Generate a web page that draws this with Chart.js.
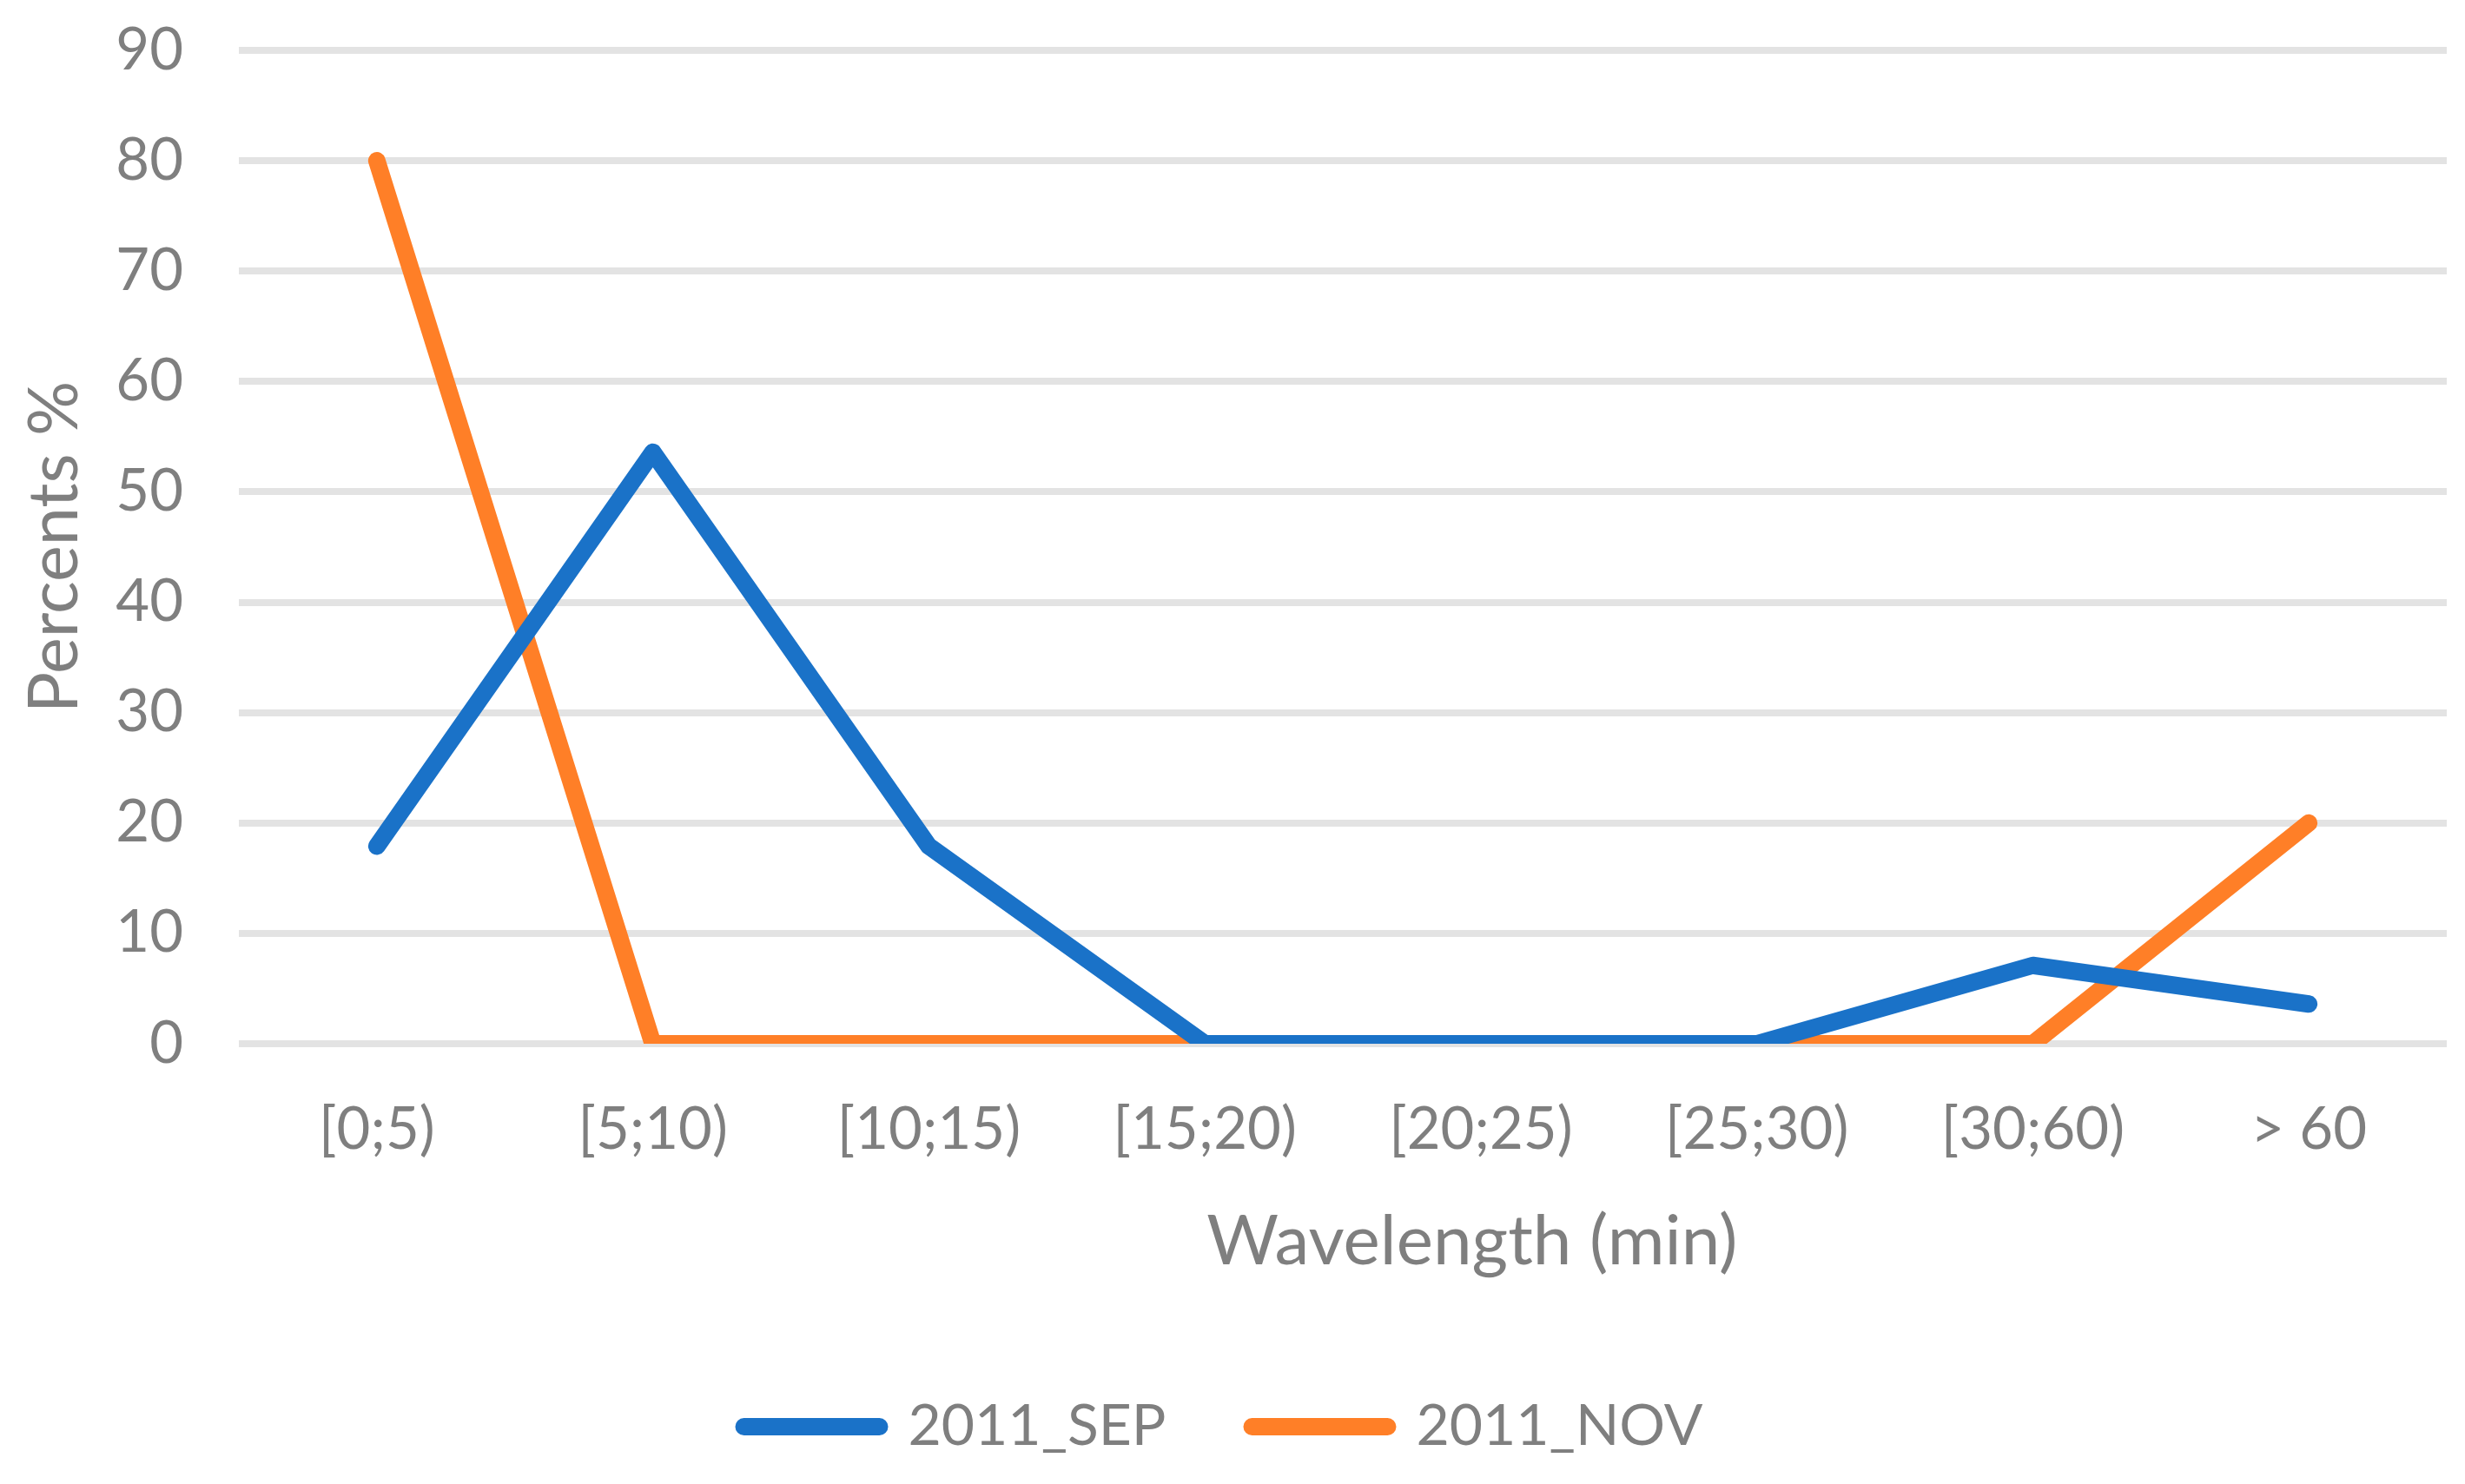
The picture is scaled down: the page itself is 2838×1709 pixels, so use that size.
<!DOCTYPE html>
<html>
<head>
<meta charset="utf-8">
<script src="https://cdn.jsdelivr.net/npm/chart.js@4.4.1/dist/chart.umd.min.js"></script>
<style>
  html, body { margin: 0; padding: 0; background: #ffffff; }
  #wrap { width: 2838px; height: 1709px; }
</style>
</head>
<body>
<div id="wrap"><canvas id="c" width="2838" height="1709"></canvas></div>
<script>
const categories = ["[0;5)", "[5;10)", "[10;15)", "[15;20)", "[20;25)", "[25;30)", "[30;60)", "> 60"];
const sep2011 = [17.9, 53.6, 17.9, 0, 0, 0, 7.1, 3.6];
const nov2011 = [80, 0, 0, 0, 0, 0, 0, 20];
const seriesNames = ["2011_SEP", "2011_NOV"];
const yTicks = [0, 10, 20, 30, 40, 50, 60, 70, 80, 90];
const xTitle = "Wavelength (min)";
const yTitle = "Percents %";

const GRAY = "#7f7f7f";
const BLUE = "#1a72c8";
const ORANGE = "#ff7f27";
const FONT = "Lato, 'Noto Sans', sans-serif";

// Draws the x-axis title where the reference places it (right of the plot centre)
const xTitlePlugin = {
  id: "xTitlePlugin",
  afterDraw(chart) {
    const ctx = chart.ctx;
    const area = chart.chartArea;
    ctx.save();
    ctx.font = "80px " + FONT;
    ctx.fillStyle = GRAY;
    ctx.textAlign = "center";
    ctx.textBaseline = "middle";
    ctx.fillText(xTitle, area.left + (area.right - area.left) * 0.5585, area.bottom + 228);
    ctx.restore();
  }
};

new Chart(document.getElementById("c"), {
  type: "line",
  data: {
    labels: categories,
    datasets: [
      { label: seriesNames[0], data: sep2011, borderColor: BLUE, backgroundColor: BLUE },
      { label: seriesNames[1], data: nov2011, borderColor: ORANGE, backgroundColor: ORANGE }
    ]
  },
  plugins: [xTitlePlugin],
  options: {
    responsive: false,
    devicePixelRatio: 1,
    animation: false,
    layout: { padding: { top: 58, right: 21, left: 0, bottom: 23 } },
    elements: {
      line: { borderWidth: 20, tension: 0, borderCapStyle: "round", borderJoinStyle: "round", fill: false },
      point: { radius: 0, hoverRadius: 0 }
    },
    plugins: {
      tooltip: { enabled: false },
      legend: {
        position: "bottom",
        labels: {
          color: GRAY,
          font: { family: FONT, size: 66 },
          usePointStyle: true,
          pointStyle: "line",
          pointStyleWidth: 156,
          padding: 99,
          generateLabels: (chart) => chart.data.datasets.map((ds, i) => ({
            text: ds.label,
            fillStyle: ds.borderColor,
            strokeStyle: ds.borderColor,
            lineWidth: 20,
            lineCap: "round",
            pointStyle: "line",
            fontColor: GRAY,
            hidden: false,
            datasetIndex: i
          }))
        }
      }
    },
    scales: {
      x: {
        offset: true,
        grid: { display: false, drawTicks: false },
        border: { display: false },
        ticks: { color: GRAY, font: { family: FONT, size: 67 }, padding: 59, maxRotation: 0, autoSkip: false },
        title: { display: false, text: xTitle },
        afterFit: (s) => { s.height = 309; }
      },
      y: {
        min: 0, max: 90,
        afterBuildTicks: (s) => { s.ticks = yTicks.map(v => ({ value: v })); },
        grid: { color: "#e3e3e3", lineWidth: 8, drawTicks: true, tickLength: 64, tickColor: "rgba(0,0,0,0)" },
        border: { display: false },
        ticks: { color: GRAY, font: { family: FONT, size: 67 }, padding: 0 },
        title: { display: true, text: yTitle, color: GRAY, font: { family: FONT, size: 79 }, padding: { top: 16, bottom: 0 } },
        afterFit: (s) => { s.width = 275; }
      }
    }
  }
});
</script>
</body>
</html>
